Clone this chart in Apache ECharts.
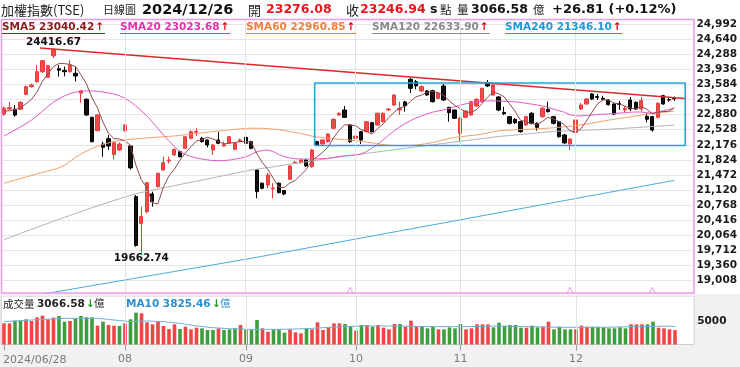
<!DOCTYPE html>
<html><head><meta charset="utf-8">
<script src="https://cdn.jsdelivr.net/npm/echarts@6/dist/echarts.min.js"></script>
<style>html,body{margin:0;padding:0;background:#fff}#c{width:740px;height:367px}</style>
</head><body><div id="c"></div>
<script>
// ---------------- DATA ----------------
const year = '2024/';
const dates = ['06/28',
'07/01','07/02','07/03','07/04','07/05','07/08','07/09','07/10','07/11','07/12','07/15','07/16','07/17','07/18','07/19','07/22','07/23','07/26','07/29','07/30','07/31',
'08/01','08/02','08/05','08/06','08/07','08/08','08/09','08/12','08/13','08/14','08/15','08/16','08/19','08/20','08/21','08/22','08/23','08/26','08/27','08/28','08/29','08/30',
'09/02','09/03','09/04','09/05','09/06','09/09','09/10','09/11','09/12','09/13','09/16','09/18','09/19','09/20','09/23','09/24','09/25','09/26','09/27','09/30',
'10/01','10/04','10/07','10/08','10/09','10/11','10/14','10/15','10/16','10/17','10/18','10/21','10/22','10/23','10/24','10/25','10/28','10/29','10/30',
'11/01','11/04','11/05','11/06','11/07','11/08','11/11','11/12','11/13','11/14','11/15','11/18','11/19','11/20','11/21','11/22','11/25','11/26','11/27','11/28','11/29',
'12/02','12/03','12/04','12/05','12/06','12/09','12/10','12/11','12/12','12/13','12/16','12/17','12/18','12/19','12/20','12/23','12/24','12/25','12/26'];

const opens = [22890,23010,23003,23004,23353,23530,23647,23880,23750,24250,
23950,23910,23880,23843,23380,23237,22817,22505,22195,22318,
21952,22055,22505,22148,20967,20346,20617,21030,21200,21589,
21800,21938,22015,22095,22328,22470,22328,22288,22055,22288,
22150,22211,22070,22260,22350,22249,21590,21280,21239,21150,
21280,21108,21372,21750,21760,21822,21667,22249,22195,22249,
22560,22871,22987,22638,22326,22482,22482,22692,22637,22715,
22990,23104,22990,23175,23703,23647,23430,23430,23437,23259,
23547,23050,22987,22444,22817,22871,23081,23181,23625,23337,
23291,22930,22832,22770,22715,22638,22910,22677,22832,23003,
22832,22715,22405,22195,22468,23010,23127,23360,23300,23260,
23220,23127,23140,22990,23220,23167,23010,22840,22832,22817,
23321,23230,23276.08];
const highs = [23070,23180,23100,23190,23560,23600,24036,24150,24040,24416.67,
24036,24000,24150,24000,23450,23260,22830,22890,22249,22405,
22260,22230,22660,22160,21006,20734,21300,21083,21530,21900,
21900,22090,22040,22380,22510,22560,22360,22300,22190,22482,
22249,22380,22230,22320,22400,22270,21610,21300,21520,21280,
21300,21120,21700,21800,21840,21850,22080,22270,22300,22440,
22790,22930,23080,22660,22400,22500,22730,22710,22930,22930,
23030,23360,23181,23200,23730,23687,23560,23450,23460,23400,
23600,23060,23000,22830,22980,23200,23260,23510,23687,23600,
23310,23064,22850,22800,22730,22850,22940,22700,23060,23181,
22850,22730,22430,22330,22770,23150,23260,23380,23360,23320,
23240,23140,23200,23080,23290,23190,23290,22910,22850,23167,
23340,23290,23300];
const lows = [22850,22990,22830,22990,23330,23510,23620,23850,23730,24200,
23765,23770,23860,23650,23160,22850,22230,22490,21899,22055,
21838,22030,22480,21600,19800,19662.74,20580,20734,21180,21570,
21740,21920,21880,22080,22300,22380,22230,22118,21938,22190,
22132,22190,22055,22240,22190,22070,20929,21140,21160,20929,
21040,21000,21350,21730,21740,21660,21640,22150,22180,22230,
22540,22850,22800,22220,22300,22195,22460,22460,22620,22700,
22960,23080,22871,22950,23380,23470,23410,23320,23160,23240,
23200,22715,22780,22249,22800,22860,23060,23160,23520,23320,
22960,22870,22650,22660,22460,22620,22650,22505,22800,22930,
22650,22340,22200,22055,22440,22990,23110,23220,23220,23200,
23090,22870,22990,22930,22960,22990,22960,22700,22480,22790,
23110,23180,23200];
const closes = [23030,23040,22870,23167,23531,23570,23880,24137,24020,24390,
23916,23880,24036,23780,23437,22871,22249,22871,22118,22148,
22225,22195,22638,21638,19831,20502,21293,20850,21510,21760,
21822,22070,21899,22365,22482,22490,22249,22172,22172,22211,
22180,22365,22211,22290,22211,22094,21083,21163,21472,21170,
21063,21030,21682,21770,21822,21682,22055,22172,22288,22428,
22770,22910,22817,22249,22380,22288,22715,22482,22910,22910,
23010,23337,23020,23082,23493,23547,23531,23337,23181,23376,
23220,22925,22794,22794,22964,23181,23237,23493,23547,23570,
22987,22900,22677,22692,22482,22832,22677,22584,23027,22948,
22677,22365,22220,22311,22754,23104,23244,23244,23280,23240,
23111,22894,23120,23020,23010,23010,23205,22770,22521,23144,
23127,23220.13,23246.94];

const sma5 = [22960,22970,22990,23040,23128,23236,23404,23657,23828,23999,
24069,24069,24048,24000,23810,23601,23275,23042,22709,22451,
22322,22311,22265,22169,21705,21361,21180,20823,20797,21183,
21447,21602,21812,21983,22128,22261,22297,22352,22313,22259,
22197,22220,22228,22251,22251,22234,21978,21768,21605,21396,
21190,21180,21283,21343,21473,21597,21802,21900,22004,22125,
22343,22514,22643,22635,22625,22529,22490,22423,22555,22661,
22805,22930,23037,23072,23188,23296,23335,23398,23418,23394,
23329,23208,23099,23022,22939,22932,22994,23134,23284,23406,
23367,23299,23136,22965,22748,22717,22672,22653,22720,22814,
22783,22720,22647,22504,22465,22551,22727,22931,23125,23222,
23224,23154,23129,23077,23031,23011,23073,23003,22903,22930,
22953,22956,23040.42];
const sma20 = [22381,22450,22520,22590,22670,22750,22850,22960,23070,23170,
23250,23315,23370,23405,23425,23432,23432,23425,23405,23385,
23360,23320,23260,23185,23080,22970,22850,22710,22560,22410,
22270,22140,22020,21950,21905,21870,21845,21825,21810,21805,
21810,21820,21840,21865,21895,21950,22010,22045,22055,22020,
21950,21900,21870,21850,21845,21843,21845,21848,21855,21862,
21880,21905,21920,21930,21938,21960,22020,22100,22180,22290,
22400,22500,22590,22670,22740,22800,22850,22895,22935,22965,
22990,23020,23060,23100,23130,23160,23180,23195,23200,23200,
23195,23190,23186,23180,23165,23145,23125,23105,23080,23050,
23010,22970,22935,22880,22850,22850,22860,22870,22880,22888,
22894,22905,22915,22925,22935,22940,22940,22925,22917,22940,
22970,23000,23023.68];
const sma60 = [21279,21316,21353,21390,21425,21460,21495,21530,21565,21600,
21640,21700,21790,21880,21960,22030,22090,22140,22185,22220,
22250,22272,22290,22303,22315,22326,22336,22345,22354,22363,
22372,22382,22393,22410,22425,22440,22455,22470,22485,22498,
22511,22524,22536,22547,22557,22562,22563,22560,22553,22542,
22528,22510,22488,22463,22437,22410,22380,22360,22345,22332,
22320,22308,22296,22284,22270,22255,22240,22222,22200,22180,
22168,22160,22156,22156,22160,22170,22185,22205,22230,22258,
22290,22322,22345,22363,22378,22392,22405,22425,22450,22478,
22500,22512,22520,22526,22530,22535,22541,22548,22556,22564,
22574,22585,22596,22608,22622,22640,22660,22682,22705,22728,
22750,22770,22790,22810,22828,22848,22870,22892,22906,22920,
22934,22948,22960.85];
const sma120 = [19966,20014,20062,20110,20158,20205,20252,20299,20346,20392,
20438,20484,20529,20574,20619,20663,20707,20750,20793,20835,
20877,20918,20958,20997,21036,21063,21090,21117,21144,21171,
21198,21224,21250,21276,21302,21328,21354,21380,21406,21432,
21458,21484,21510,21536,21562,21588,21607,21626,21645,21664,
21683,21702,21721,21740,21759,21778,21797,21816,21835,21854,
21873,21890,21907,21924,21941,21958,21975,21992,22009,22026,
22043,22060,22077,22094,22111,22128,22144,22160,22176,22192,
22208,22224,22240,22256,22272,22288,22304,22320,22336,22352,
22368,22380,22392,22404,22416,22428,22440,22452,22464,22476,
22488,22493,22498,22503,22508,22513,22518,22523,22528,22533,
22538,22546,22554,22562,22570,22578,22586,22594,22602,22610,
22618,22626,22633.90];
const sma240 = [18540,18562,18584,18606,18628,18650,18672,18694,18716,18738,
18760,18782,18804,18826,18848,18870,18892,18914,18936,18958,
18980,19002,19024,19046,19068,19090,19112,19134,19156,19178,
19200,19222,19244,19266,19288,19310,19332,19354,19376,19398,
19420,19442,19464,19486,19508,19530,19554,19577,19601,19624,
19648,19672,19695,19719,19742,19766,19790,19813,19837,19860,
19884,19908,19931,19955,19978,20002,20026,20049,20073,20096,
20120,20144,20167,20191,20214,20238,20262,20285,20309,20332,
20356,20380,20403,20427,20450,20474,20498,20521,20545,20568,
20592,20616,20639,20663,20686,20710,20734,20757,20781,20804,
20828,20852,20875,20899,20922,20946,20970,20993,21017,21040,
21064,21088,21111,21135,21158,21182,21206,21229,21253,21276,
21300,21323,21346.10];

const volumes = [4504,4504,5072,5072,5356,5001,5781,6136,5356,5710,
6065,4859,5001,5568,6065,5781,5781,4008,4859,4150,
4008,3937,4504,5356,6774,6632,4717,4292,4788,3937,
3298,4292,3298,3795,3228,3582,3440,3086,3086,3440,
3086,3228,3440,4150,3086,3086,5214,3440,2731,3228,
3298,2518,3228,2589,2376,3440,3228,4717,3086,3653,
4504,4504,4362,3937,2944,4150,4150,3795,4150,3582,
3228,4362,4362,3795,5072,3795,3937,3440,3795,3228,
3228,3653,3440,4362,3228,3440,4292,4292,4292,3653,
4646,3937,4150,4150,3582,3582,4008,3653,3795,4859,
3228,3795,3228,3228,3228,4008,3795,3795,3795,3653,
3440,3440,3653,3440,4292,4292,4292,4292,4859,3582,
3440,3228,3066.58];
const volUp = [1,1,0,0,1,1,1,1,1,1,
0,0,1,0,0,0,0,1,0,1,
1,0,1,0,0,1,1,1,1,1,
1,1,0,1,1,1,0,0,0,1,
0,0,0,1,0,0,0,1,1,0,
0,0,1,1,1,0,1,1,1,1,
1,1,0,0,1,0,1,0,1,1,
1,1,0,1,1,1,0,0,0,1,
0,0,0,0,1,1,1,1,1,0,
0,0,0,0,0,1,0,0,1,1,
0,0,0,0,1,1,1,0,0,0,
0,0,0,0,1,1,1,0,0,1,
1,1,1];
const volMa10 = [4862,4930,5000,5070,5140,5210,5270,5330,5390,5450,
5510,5560,5570,5570,5570,5570,5570,5570,5450,5330,
5214,5100,4980,4862,4920,4980,5001,4950,4900,4862,
4750,4620,4503,4310,4120,3937,3820,3700,3582,3510,
3440,3369,3320,3275,3228,3228,3228,3228,3228,3228,
3228,3250,3270,3298,3345,3390,3440,3510,3580,3650,
3700,3750,3795,3840,3890,3937,3937,3937,3937,3937,
3937,3937,3937,3910,3880,3850,3820,3800,3795,3795,
3795,3795,3795,3795,3795,3820,3840,3870,3900,3920,
3937,3910,3880,3850,3820,3800,3795,3770,3740,3710,
3680,3660,3653,3653,3653,3653,3653,3653,3653,3653,
3680,3700,3730,3760,3790,3795,3810,3830,3850,3870,
3890,3901,3825.46];

// annotations (data coordinates: [index, price])
const trendLine = [[6.55, 24433], [124.0, 23255]];
const boxIdx = [56.55, 124.0];
const boxPrice = [22160, 23617];
const eventIdx = [63, 103, 118];
const eventLevel = 18785;

// header / legend texts
const hdr = {name:'加權指數(TSE)', kind:'日線圖', date:'2024/12/26', open:'23276.08', close:'23246.94', vol:'3066.58', chg:'+26.81 (+0.12%)'};
const smaLegend = [
  ['SMA5', '23040.42'], ['SMA20', '23023.68'], ['SMA60', '22960.85'], ['SMA120', '22633.90'], ['SMA240', '21346.10']
];
const volLegend = {vol:'3066.58', ma:'3825.46'};

// ---------------- CHART ----------------
const N = dates.length;
const cats = dates.concat(['', '', '']);
const isMonthStart = i => i > 1 && i < N && dates[i].slice(0,2) !== dates[i-1].slice(0,2);
const isTick = i => i === 0 || isMonthStart(i);
const monthStarts = dates.map((d,i)=>i).filter(isMonthStart);
const candle = dates.map((d,i)=>[opens[i], closes[i], lows[i], highs[i]]);
const FONT = '"DejaVu Sans", Verdana, sans-serif';
const CJK = '"Noto Sans CJK TC", "Noto Sans CJK SC", sans-serif';
const RED = '#f04545', GREEN = '#3c9e3c';
const hiIdx = highs.indexOf(Math.max(...highs));
const loIdx = lows.indexOf(Math.min(...lows));

const mctx = document.createElement('canvas').getContext('2d');
function textW(text, font) { mctx.font = font; return mctx.measureText(text).width; }

const chart = echarts.init(document.getElementById('c'), null, {renderer:'canvas', width:740, height:367});

function T(x, y, text, font, fill, extra) {
  return {type:'text', x:x, y:y, z:101, silent:true,
    style:Object.assign({text:text, font:font, fill:fill, align:'left', verticalAlign:'middle', textAlign:'left', textVerticalAlign:'middle'}, extra || {})};
}
function L(x1, y1, x2, y2, stroke, w) {
  return {type:'line', z:101, silent:true, shape:{x1:x1,y1:y1,x2:x2,y2:y2}, style:{stroke:stroke, lineWidth:w||1}};
}
const B125 = 'bold 12.5px ' + FONT, B14 = 'bold 14.5px ' + FONT, C13 = '13px ' + CJK, C11 = '11.5px ' + CJK, B10 = 'bold 10.5px ' + FONT;
const smaColors = ['#8b1c1c', '#e431b0', '#ef7f3f', '#8a8a8a', '#1a9bd7'];
const smaLineColors = ['#8e4a4a', '#e25bc6', '#f3a06a', '#b3b3b3', '#45a9da'];
const legX = [2, 120, 246, 372, 505];

const graphics = [
  {type:'rect', z:-10, silent:true, shape:{x:0, y:294, width:740, height:73}, style:{fill:'#f1f1f1'}},
  {type:'rect', z:99, silent:true, shape:{x:0, y:293.8, width:740, height:2.2}, style:{fill:'#f1f1f1'}},
  {type:'rect', z:99, silent:true, shape:{x:0, y:0, width:740, height:18.5}, style:{fill:'#ffffff'}},
  {type:'rect', z:100, silent:true, shape:{x:1.5, y:19.5, width:692.5, height:273.5}, style:{fill:'none', stroke:'#e79be3', lineWidth:1.5}},
  T(1, 10, hdr.name, C13, '#222'),
  T(103, 10, hdr.kind, '11px ' + CJK, '#222'),
  T(142, 10, hdr.date, B14, '#111'),
  T(248, 10, '開', C13, '#222'),
  T(266, 10, hdr.open, B125, '#e8141b'),
  T(346, 10, '收', C13, '#222'),
  T(360, 10, hdr.close, B125, '#e8141b'),
  T(430, 10, 's', B125, '#111'),
  T(440, 10, '點', C11, '#222'),
  T(457, 10, '量', C11, '#222'),
  T(471, 10, hdr.vol, B125, '#111'),
  T(533, 10, '億', C11, '#222'),
  T(552, 10, hdr.chg, 'bold 13px ' + FONT, '#111'),
  T(3, 304, '成交量', '10.5px ' + CJK, '#222'),
  T(37, 304, volLegend.vol, B10, '#222'),
  T(86, 304, '↓', B10, '#1a9a1a'),
  T(94, 303.5, '億', '10.5px ' + CJK, '#222'),
  T(126, 304, 'MA10 ' + volLegend.ma, B10, '#2a8fd0'),
  T(212, 304, '↓', B10, '#1a9a1a'),
  T(220, 303.5, '億', '10.5px ' + CJK, '#2a8fd0'),
  T(3, 360, year + dates[0], '11px ' + FONT, '#7a7a7a')
];
smaLegend.forEach((s, k) => {
  const x0 = legX[k];
  const label = s[0] + ' ' + s[1];
  const w = textW(label, B10);
  const aw = textW('↑', B10);
  graphics.push(T(x0, 27, label, B10, smaColors[k]));
  graphics.push(T(x0 + w + 1, 27, '↑', B10, '#e00000'));
  graphics.push(L(x0, 33.5, x0 + w + aw + 2, 33.5, smaColors[k], 1));
});

const lineSeries = (name, data, color) => ({
  name, type:'line', xAxisIndex:0, yAxisIndex:0, data, showSymbol:false, symbol:'none',
  z:3, silent:true, lineStyle:{width:1, color}, emphasis:{disabled:true}
});

const option = {
  animation:false,
  backgroundColor:'#ffffff',
  graphic: graphics,
  grid:[
    {left:1.25, top:8.9, width:693, height:286.9},
    {left:1.25, top:296, width:693, height:48.5, show:true, backgroundColor:'#ffffff', borderColor:'#cfcfcf', borderWidth:1}
  ],
  xAxis:[
    {type:'category', gridIndex:0, data:cats, boundaryGap:true, axisLine:{show:false}, axisTick:{show:false}, axisLabel:{show:false}, splitLine:{show:false}},
    {type:'value', gridIndex:0, min:-0.5, max:cats.length - 0.5, show:false},
    {type:'category', gridIndex:1, data:cats, boundaryGap:true,
      axisLine:{show:false},
      axisTick:{show:true, alignWithLabel:true, interval:(i)=> isTick(i), length:6, lineStyle:{color:'#9a9a9a'}},
      axisLabel:{interval:(i)=> isMonthStart(i), color:'#7a7a7a', fontSize:11, fontFamily:FONT, margin:9,
        formatter:(v)=> v.slice(0,2)},
      splitLine:{show:false}}
  ],
  yAxis:[
    {type:'value', gridIndex:0, position:'right', min:18656, max:25344, interval:352,
      axisLine:{show:false}, axisTick:{show:false},
      axisLabel:{color:'#1a1a1a', fontSize:10.5, fontWeight:'bold', fontFamily:FONT, margin:3, showMinLabel:false, showMaxLabel:false},
      splitLine:{show:true, showMinLine:false, showMaxLine:false, lineStyle:{color:'#e6e6e6', width:1}}},
    {type:'value', gridIndex:1, position:'right', min:0, max:10319, interval:5000,
      axisLine:{show:false}, axisTick:{show:false},
      axisLabel:{color:'#1a1a1a', fontSize:10.5, fontWeight:'bold', fontFamily:FONT, margin:3, formatter:(v)=> v===5000 ? '5000' : ''},
      splitLine:{show:false}}
  ],
  series:[
    {type:'line', xAxisIndex:0, yAxisIndex:0, data:[], z:1, silent:true,
      markLine:{silent:true, symbol:['none','none'], label:{show:false}, lineStyle:{color:'#e2e2e2', width:1, type:'solid'},
        data: monthStarts.map(i=>({xAxis:i}))}},
    {type:'line', xAxisIndex:2, yAxisIndex:1, data:[], z:1, silent:true,
      markLine:{silent:true, symbol:['none','none'], label:{show:false}, lineStyle:{color:'#e2e2e2', width:1, type:'solid'},
        data: monthStarts.map(i=>({xAxis:i}))}},
    {type:'candlestick', xAxisIndex:0, yAxisIndex:0, data:candle, barWidth:3.8, z:2, silent:true,
      itemStyle:{color:'#f24a4a', color0:'#111111', borderColor:'#e83a3a', borderColor0:'#000000', borderWidth:1},
      markPoint:{silent:true, symbol:'circle', symbolSize:0,
        label:{show:true, color:'#111', fontFamily:FONT, fontWeight:'bold', fontSize:10.5},
        data:[
          {coord:[hiIdx, highs[hiIdx]], value:highs[hiIdx], label:{formatter:String(highs[hiIdx].toFixed(2)), offset:[0,-6]}},
          {coord:[loIdx, lows[loIdx]], value:lows[loIdx], label:{formatter:String(lows[loIdx].toFixed(2)), offset:[0,6]}}
        ]}},
    lineSeries('SMA240', sma240, smaLineColors[4]),
    lineSeries('SMA120', sma120, smaLineColors[3]),
    lineSeries('SMA60', sma60, smaLineColors[2]),
    lineSeries('SMA20', sma20, smaLineColors[1]),
    lineSeries('SMA5', sma5, smaLineColors[0]),
    {type:'line', xAxisIndex:1, yAxisIndex:0, data:trendLine, showSymbol:false, symbol:'none', z:4, silent:true,
      lineStyle:{color:'#e02828', width:1.6}},
    {type:'line', xAxisIndex:1, yAxisIndex:0, showSymbol:false, symbol:'none', z:4, silent:true,
      data:[[boxIdx[0], boxPrice[0]], [boxIdx[0], boxPrice[1]], [boxIdx[1], boxPrice[1]], [boxIdx[1], boxPrice[0]], [boxIdx[0], boxPrice[0]]],
      lineStyle:{color:'#1ea6dc', width:1.6}},
    {type:'scatter', xAxisIndex:0, yAxisIndex:0, z:5, silent:true,
      data: eventIdx.map(i=>[i, eventLevel]), symbol:'path://M0,10L5,0L10,10', symbolSize:[6,6],
      itemStyle:{color:'rgba(0,0,0,0)', borderColor:'#e08adc', borderWidth:1}},
    {type:'bar', xAxisIndex:2, yAxisIndex:1, data:volumes, barWidth:3.6, z:2, silent:true,
      itemStyle:{color:(p)=> volUp[p.dataIndex] ? RED : GREEN}},
    {type:'line', xAxisIndex:2, yAxisIndex:1, data:volMa10, showSymbol:false, symbol:'none', z:3, silent:true,
      lineStyle:{color:'#6fb0d8', width:1}}
  ]
};
chart.setOption(option);
</script></body></html>
